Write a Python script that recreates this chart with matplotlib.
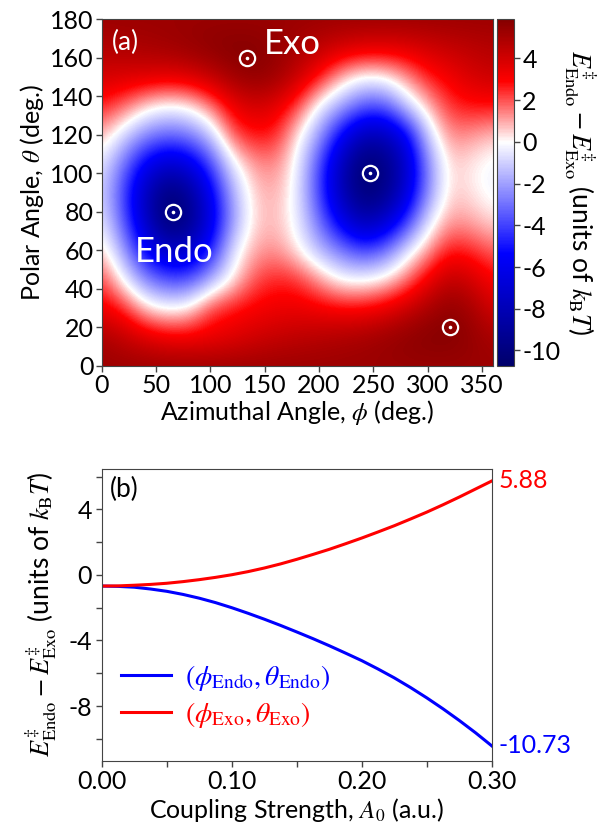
import numpy as np
import matplotlib.pyplot as plt
from matplotlib.colors import LinearSegmentedColormap
from matplotlib.ticker import MultipleLocator, FormatStrFormatter

plt.rcParams['font.family'] = ['Lato', 'DejaVu Sans']
plt.rcParams['mathtext.fontset'] = 'stix'
plt.rcParams['axes.unicode_minus'] = False
plt.rcParams['font.size'] = 18

# ---- panel (a): energy difference over the field direction
phi_grid = [0, 20, 40, 60, 80, 100, 120, 140, 160, 180, 200, 220, 240, 260, 280, 300, 320, 340, 360]
theta_grid = [0, 15, 30, 45, 60, 75, 90, 105, 120, 135, 150, 165, 180]
dE_map = [
    [5.3, 5.3, 5.3, 5.3, 5.3, 5.3, 5.3, 5.3, 5.3, 5.3, 5.3, 5.3, 5.3, 5.3, 5.3, 5.3, 5.3, 5.3, 5.3],             # 0
    [5.0, 4.4, 3.8, 3.3, 3.2, 3.3, 3.6, 4.0, 4.3, 4.5, 4.7, 4.9, 5.1, 5.4, 5.65, 5.85, 5.85, 5.5, 5.0],          # 15
    [3.3, 2.6, 0.6, -0.1, 0.3, 2.3, 2.8, 3.1, 3.3, 3.4, 3.2, 3.0, 3.0, 3.4, 4.2, 5.0, 5.6, 5.1, 3.9],           # 30
    [2.2, -0.2, -2.6, -3.8, -3.8, -1.8, 0.1, 2.0, 2.6, 2.4, 1.2, -0.1, -0.2, 0.3, 1.5, 3.3, 4.5, 4.0, 3.0],      # 45
    [0.7, -2.0, -5.5, -7.5, -7.3, -5.0, -0.6, 1.0, 1.3, 0.2, -1.5, -2.8, -4.0, -3.2, -0.6, 1.1, 2.8, 2.5, 1.8],  # 60
    [-0.4, -3.5, -7.5, -10.5, -9.8, -6.5, -2.2, 0.5, 0.8, -0.3, -3.0, -6.0, -8.3, -7.3, -4.5, -0.6, 1.2, 1.0, 0.4],   # 75
    [-0.9, -4.0, -7.8, -10.3, -9.3, -6.0, -1.8, 0.6, 1.0, -0.4, -4.0, -8.0, -10.3, -9.8, -7.0, -2.5, 0.6, 0.3, -0.3],  # 90
    [-0.5, -3.0, -5.8, -7.2, -6.5, -4.0, -0.4, 1.2, 1.4, -0.2, -3.8, -7.8, -10.5, -10.0, -7.5, -2.6, 0.6, 0.2, -0.3],  # 105
    [0.9, -0.8, -2.5, -3.2, -2.8, -1.2, 2.0, 2.8, 2.6, 0.3, -2.0, -5.5, -8.0, -8.0, -6.0, -1.0, 1.4, 1.2, 0.7],  # 120
    [2.6, 1.8, 0.5, -0.1, 0.2, 1.5, 3.3, 4.0, 3.6, 2.2, -0.3, -1.8, -3.5, -3.6, -1.0, 0.8, 2.4, 2.8, 2.8],      # 135
    [4.0, 3.8, 3.8, 3.6, 3.8, 4.4, 5.2, 5.6, 5.3, 4.3, 2.8, 0.9, -0.1, 0.1, 1.2, 2.6, 3.2, 3.9, 4.2],           # 150
    [4.7, 4.9, 5.0, 5.2, 5.45, 5.7, 5.85, 5.8, 5.5, 5.0, 4.5, 4.0, 3.7, 3.6, 3.7, 4.0, 4.3, 4.5, 4.7],          # 165
    [5.3, 5.3, 5.3, 5.3, 5.3, 5.3, 5.3, 5.3, 5.3, 5.3, 5.3, 5.3, 5.3, 5.3, 5.3, 5.3, 5.3, 5.3, 5.3],             # 180
]
dE_min, dE_max = -10.73, 5.88

# circled points
mark_phi = [134, 66, 247, 321]
mark_theta = [160, 80, 100, 20]

# ---- panel (b): dE vs coupling strength
A0 = [0, 0.0125, 0.025, 0.0375, 0.05, 0.0625, 0.075, 0.0875, 0.1, 0.1125, 0.125, 0.1375, 0.15,
      0.1625, 0.175, 0.1875, 0.2, 0.2125, 0.225, 0.2375, 0.25, 0.2625, 0.275, 0.2875, 0.3]
dE_endo = [-0.68, -0.70, -0.75, -0.86, -1.00, -1.19, -1.42, -1.69, -2.00, -2.34, -2.70, -3.08, -3.48,
           -3.89, -4.32, -4.77, -5.23, -5.74, -6.28, -6.87, -7.50, -8.17, -8.88, -9.63, -10.43]
dE_exo = [-0.68, -0.67, -0.63, -0.58, -0.51, -0.41, -0.29, -0.15, 0.01, 0.20, 0.42, 0.67, 0.95,
          1.25, 1.56, 1.90, 2.25, 2.62, 3.00, 3.41, 3.83, 4.28, 4.75, 5.24, 5.73]
end_labels = ['-10.73', '5.88']

# seismic-like map with white at zero
zpos = -dE_min / (dE_max - dE_min)
cmap = LinearSegmentedColormap.from_list('bwr_shift', [
    (0.0, (0.0, 0.0, 0.42)),
    (zpos / 2, (0.0, 0.0, 1.0)),
    (zpos, (1.0, 1.0, 1.0)),
    (zpos + (1 - zpos) / 2, (1.0, 0.0, 0.0)),
    (1.0, (0.52, 0.0, 0.0)),
])

ylabel = r'$E^{\ddagger}_{\mathrm{Endo}} - E^{\ddagger}_{\mathrm{Exo}}$ (units of $k_{\mathrm{B}}T$)'
spine_col = '#444444'

fig = plt.figure(figsize=(6.02, 8.27), dpi=100)

# ---------------- (a)
ax1 = fig.add_axes([0.169, 0.5578, 0.6495, 0.4189])
dphi = phi_grid[1] - phi_grid[0]
dth = theta_grid[1] - theta_grid[0]
im = ax1.imshow(np.array(dE_map), origin='lower', aspect='auto', cmap=cmap,
                vmin=dE_min, vmax=dE_max, interpolation='bicubic',
                extent=[phi_grid[0] - dphi / 2, phi_grid[-1] + dphi / 2,
                        theta_grid[0] - dth / 2, theta_grid[-1] + dth / 2])
ax1.set_xlim(0, 360)
ax1.set_ylim(0, 180)
ax1.set_xticks(np.arange(0, 351, 50))
ax1.set_yticks(np.arange(0, 181, 20))
ax1.set_xlabel(r'Azimuthal Angle, $\phi$ (deg.)', labelpad=1)
ax1.set_ylabel(r'Polar Angle, $\theta$ (deg.)', labelpad=3)
ax1.tick_params(length=4, width=1, color=spine_col, pad=2)
for s in ax1.spines.values():
    s.set_color(spine_col)

ax1.plot(mark_phi, mark_theta, 'o', ms=11, mfc='none', mec='white', mew=1.6)
ax1.plot(mark_phi, mark_theta, 'o', ms=2.6, mfc='white', mec='white', mew=0)
ax1.text(0.025, 0.97, '(a)', transform=ax1.transAxes, color='white',
         ha='left', va='top', fontsize=19)
ax1.text(149, 167, 'Exo', color='white', ha='left', va='center', fontsize=25)
ax1.text(67, 59, 'Endo', color='white', ha='center', va='center', fontsize=25)

cax = fig.add_axes([0.825, 0.5578, 0.0287, 0.4189])
cb = fig.colorbar(im, cax=cax, ticks=np.arange(-10, 5, 2))
cb.outline.set_edgecolor(spine_col)
cb.ax.tick_params(length=4, width=1, color=spine_col, pad=2)
cb.set_label(ylabel, rotation=270, labelpad=27, fontsize=19)

# ---------------- (b)
ax2 = fig.add_axes([0.169, 0.0802, 0.648, 0.3531])
ax2.plot(A0, dE_endo, color='#0000ff', lw=2.2,
         label=r'$(\phi_{\mathrm{Endo}},\theta_{\mathrm{Endo}})$')
ax2.plot(A0, dE_exo, color='#ff0000', lw=2.2,
         label=r'$(\phi_{\mathrm{Exo}},\theta_{\mathrm{Exo}})$')
ax2.set_xlim(0, 0.3)
ax2.set_ylim(dE_min - 0.6, dE_max + 0.6)
ax2.xaxis.set_major_locator(MultipleLocator(0.1))
ax2.xaxis.set_minor_locator(MultipleLocator(0.05))
ax2.xaxis.set_major_formatter(FormatStrFormatter('%.2f'))
ax2.yaxis.set_major_locator(MultipleLocator(4))
ax2.yaxis.set_minor_locator(MultipleLocator(2))
ax2.tick_params(which='both', length=4, width=1, color=spine_col, pad=3)
for s in ax2.spines.values():
    s.set_color(spine_col)
ax2.set_xlabel(r'Coupling Strength, $A_0$ (a.u.)', labelpad=2)
ax2.set_ylabel(ylabel, labelpad=7, fontsize=19)
ax2.text(0.02, 0.97, '(b)', transform=ax2.transAxes, ha='left', va='top', fontsize=19)

for yv, txt, col in zip([dE_endo[-1], dE_exo[-1]], end_labels, ['#0000ff', '#ff0000']):
    ax2.annotate(txt, xy=(A0[-1], yv), xytext=(5, 0), textcoords='offset points',
                 color=col, ha='left', va='center', fontsize=18, annotation_clip=False)

leg = ax2.legend(loc='lower left', bbox_to_anchor=(0.0, 0.04), frameon=False,
                 fontsize=20, handlelength=1.8, handletextpad=0.5, labelspacing=0.25,
                 borderaxespad=0.3)
for t, col in zip(leg.get_texts(), ['#0000ff', '#ff0000']):
    t.set_color(col)

fig.savefig('out.png', dpi=100)
